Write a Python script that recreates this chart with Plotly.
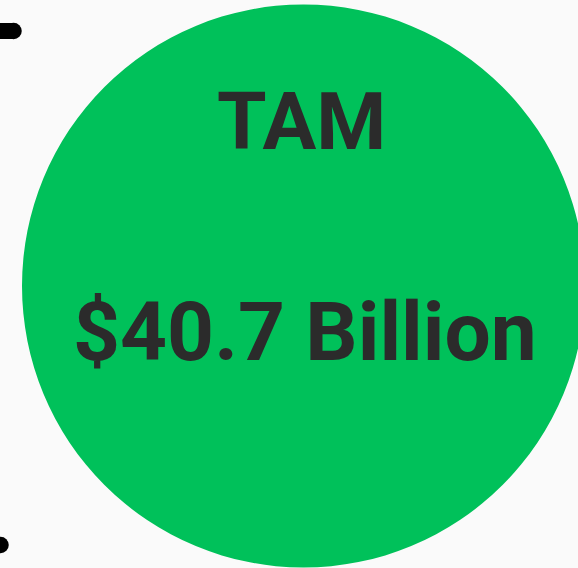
import plotly.graph_objects as go

# --- data ---
segment_label = ["TAM"]
segment_value = ["$40.7 Billion"]

W, H = 578, 568
BG = "#fafafa"
GREEN = "#00c15a"
TEXT = "#2b2b2b"

cx, cy, r = 303.5, 286, 281.5

fig = go.Figure()

# decorative bracket ends (partially off-canvas)
fig.add_trace(go.Scatter(x=[-30, 13.5], y=[31, 31], mode="lines",
                         line=dict(color="black", width=16), hoverinfo="skip",
                         showlegend=False))
fig.add_trace(go.Scatter(x=[13.5, 0.5], y=[31, 545], mode="markers",
                         marker=dict(color="black", size=16.5, line=dict(width=0)),
                         hoverinfo="skip", showlegend=False))

fig.add_shape(type="circle", xref="x", yref="y",
              x0=cx - r, x1=cx + r, y0=cy - r, y1=cy + r,
              fillcolor=GREEN, line=dict(width=0), layer="above")

fig.add_annotation(x=301, y=122, xref="x", yref="y", text="<b>%s</b>" % segment_label[0],
                   showarrow=False, font=dict(family="Roboto", size=80, color=TEXT),
                   xanchor="center", yanchor="middle")
fig.add_annotation(x=305, y=332, xref="x", yref="y", text="<b>%s</b>" % segment_value[0],
                   showarrow=False, font=dict(family="Roboto", size=82, color=TEXT),
                   xanchor="center", yanchor="middle")

fig.update_layout(width=W, height=H, margin=dict(l=0, r=0, t=0, b=0),
                  paper_bgcolor=BG, plot_bgcolor=BG,
                  xaxis=dict(range=[0, W], visible=False, fixedrange=True),
                  yaxis=dict(range=[H, 0], visible=False, fixedrange=True),
                  showlegend=False)

fig.write_html("out.html", config={"displayModeBar": False},
               post_script="document.body.style.margin='0';document.body.style.background='%s';" % BG)
